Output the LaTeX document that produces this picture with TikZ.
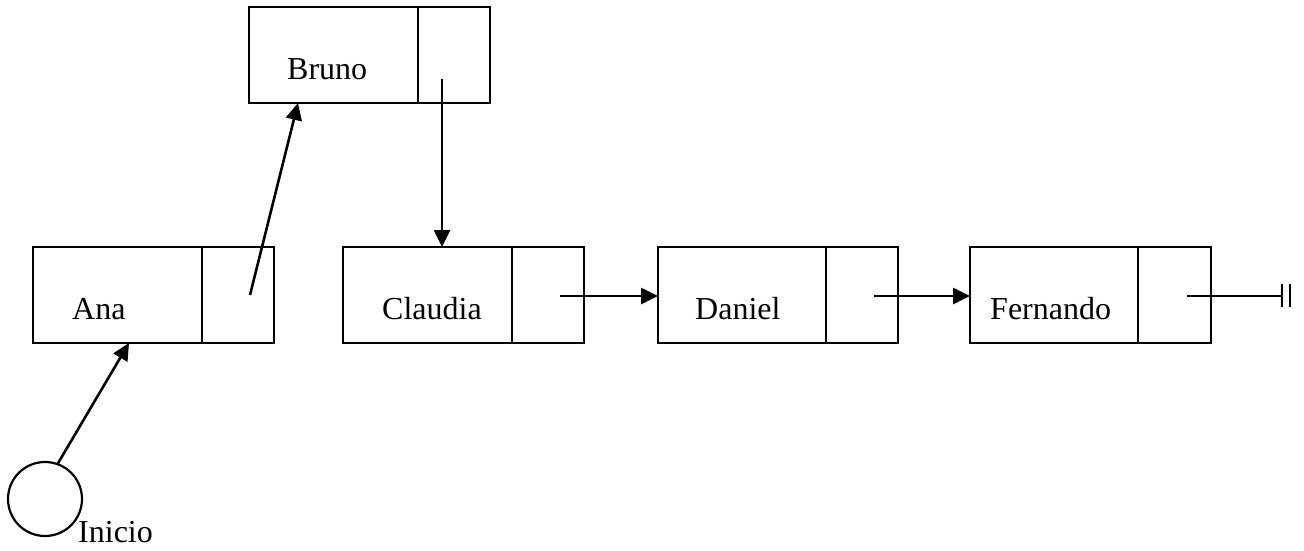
\documentclass[tikz,border=0pt]{standalone}
\usepackage{fontspec}
\setmainfont{Liberation Serif}
\usetikzlibrary{arrows.meta}
\begin{document}
\begin{tikzpicture}[x=1pt,y=-1pt,
  cell/.style={draw,line width=2.2pt,inner sep=0pt,outer sep=0pt},
  lbl/.style={anchor=base west,inner sep=0pt,font=\fontsize{32}{36}\selectfont},
  ptr/.style={line width=2.6pt,-{Triangle[length=17pt,width=16pt]}},
  nil/.style={line width=2.4pt}]
\useasboundingbox (0,0) rectangle (1304,551);
% boxes: left part and right part
\node[cell,minimum width=169pt,minimum height=96pt] (bruL) at (333.5,55) {};
\node[cell,minimum width=72pt,minimum height=96pt] (bruR) at (454,55) {};
\node[cell,minimum width=169pt,minimum height=96pt] (anaL) at (117.5,295) {};
\node[cell,minimum width=72pt,minimum height=96pt] (anaR) at (238,295) {};
\node[cell,minimum width=169pt,minimum height=96pt] (claL) at (427.5,295) {};
\node[cell,minimum width=72pt,minimum height=96pt] (claR) at (548,295) {};
\node[cell,minimum width=168pt,minimum height=96pt] (danL) at (742,295) {};
\node[cell,minimum width=72pt,minimum height=96pt] (danR) at (862,295) {};
\node[cell,minimum width=168pt,minimum height=96pt] (ferL) at (1054,295) {};
\node[cell,minimum width=73pt,minimum height=96pt] (ferR) at (1174.5,295) {};
% labels
\node[lbl] (tBru) at (287,79) {Bruno};
\node[lbl] (tAna) at (72,319) {Ana};
\node[lbl] (tCla) at (382,319) {Claudia};
\node[lbl] (tDan) at (695,319) {Daniel};
\node[lbl] (tFer) at (990,319) {Fernando};
% inicio
\node[draw,circle,line width=2.2pt,minimum size=74pt,inner sep=0pt] (ini) at (45,499) {};
\node[lbl] (tIni) at (78,542) {Inicio};
% pointer coordinates
\coordinate (pAna) at (250,295);
\coordinate (pBru) at (442,79);
\coordinate (pCla) at (560,296);
\coordinate (pDan) at (874,296);
\coordinate (pFer) at (1187,296);
\coordinate (nilEnd) at (1282,296);
\coordinate (hitBru) at (298,103);
\coordinate (hitCla) at (442,247);
\coordinate (hitDan) at (658,296);
\coordinate (hitFer) at (970,296);
\coordinate (hitAna) at (129,343);
% connectors
\draw[ptr] (ini.70) -- (hitAna);
\draw[ptr] (pAna) -- (hitBru);
\draw[ptr] (pBru) -- (hitCla);
\draw[ptr] (pCla) -- (hitDan);
\draw[ptr] (pDan) -- (hitFer);
\draw[nil] (pFer) -- (nilEnd);
\draw[nil] (1282,284) -- (1282,307);
\draw[nil] (1290,284) -- (1290,307);
\end{tikzpicture}
\end{document}
